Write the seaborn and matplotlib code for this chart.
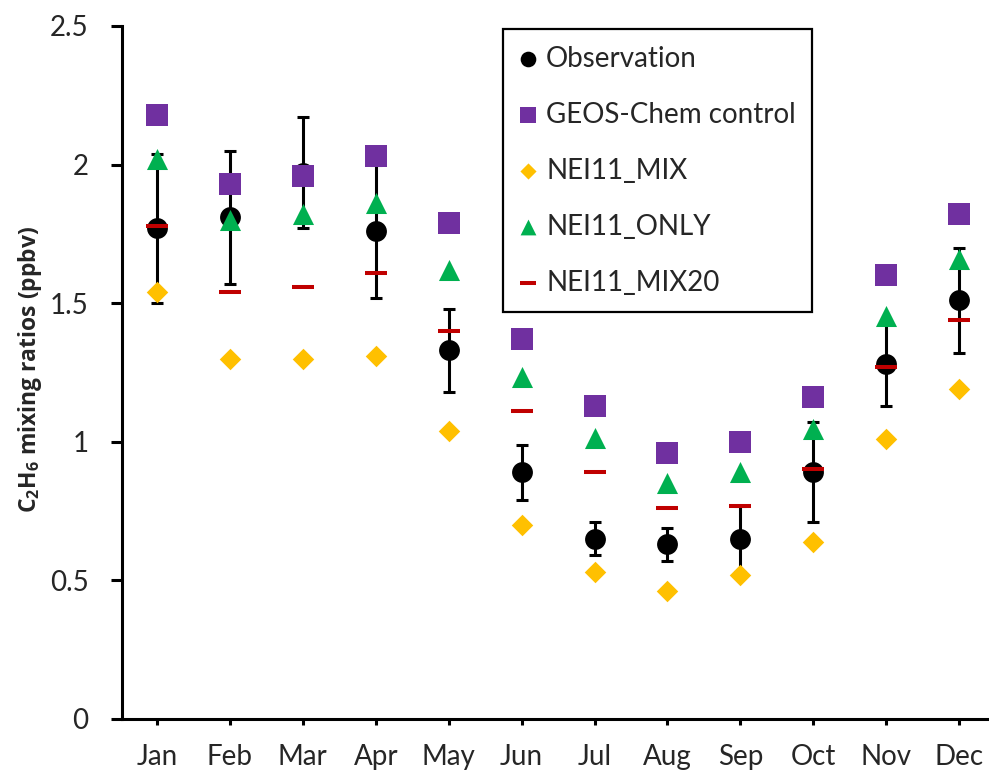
import numpy as np
import pandas as pd
import seaborn as sns
import matplotlib
matplotlib.use("Agg")
import matplotlib.pyplot as plt

months = ['Jan', 'Feb', 'Mar', 'Apr', 'May', 'Jun', 'Jul', 'Aug', 'Sep', 'Oct', 'Nov', 'Dec']

# observation with error bars (ppbv)
obs = [1.77, 1.81, 1.97, 1.76, 1.33, 0.89, 0.65, 0.63, 0.65, 0.89, 1.28, 1.51]
obs_err = [0.27, 0.24, 0.20, 0.24, 0.15, 0.10, 0.06, 0.06, 0.12, 0.18, 0.15, 0.19]

# model runs
geos_control = [2.18, 1.93, 1.96, 2.03, 1.79, 1.37, 1.13, 0.96, 1.00, 1.16, 1.60, 1.82]
nei11_mix = [1.54, 1.30, 1.30, 1.31, 1.04, 0.70, 0.53, 0.46, 0.52, 0.64, 1.01, 1.19]
nei11_only = [2.02, 1.80, 1.82, 1.86, 1.62, 1.235, 1.015, 0.85, 0.89, 1.045, 1.455, 1.66]
nei11_mix20 = [1.78, 1.54, 1.56, 1.61, 1.40, 1.11, 0.89, 0.76, 0.77, 0.90, 1.27, 1.44]

df = pd.DataFrame({'month': months, 'x': np.arange(len(months)),
                   'obs': obs, 'err': obs_err,
                   'control': geos_control, 'mix': nei11_mix,
                   'only': nei11_only, 'mix20': nei11_mix20})

sns.set_style('white')
plt.rcParams['font.family'] = ['Lato', 'DejaVu Sans']
plt.rcParams['mathtext.fontset'] = 'custom'
plt.rcParams['mathtext.rm'] = 'Open Sans:bold'
plt.rcParams['mathtext.bf'] = 'Open Sans:bold'

fig = plt.figure(figsize=(9.89, 7.76), dpi=100)
ax = fig.add_axes([0.1234, 0.0735, 0.8766, 0.893])

# observation first so the model markers sit on top
ax.errorbar(df['x'], df['obs'], yerr=df['err'], fmt='none', ecolor='black',
            elinewidth=2.2, capsize=4.5, capthick=2.2, zorder=2)
sns.scatterplot(data=df, x='x', y='obs', marker='o', s=225, color='black',
                edgecolor='black', linewidth=0, label='Observation', ax=ax, zorder=3)
sns.scatterplot(data=df, x='x', y='control', marker='s', s=250, color='#7030A0',
                edgecolor='#7030A0', linewidth=0, label='GEOS-Chem control', ax=ax, zorder=4)
sns.scatterplot(data=df, x='x', y='mix', marker='D', s=120, color='#FFC000',
                edgecolor='#FFC000', linewidth=0, label='NEI11_MIX', ax=ax, zorder=4)
sns.scatterplot(data=df, x='x', y='only', marker='^', s=230, color='#00B050',
                edgecolor='#00B050', linewidth=0, label='NEI11_ONLY', ax=ax, zorder=4)
sns.scatterplot(data=df, x='x', y='mix20', marker='_', s=250, color='#C00000',
                edgecolor='#C00000', linewidth=2.9, label='NEI11_MIX20', ax=ax, zorder=5)

ax.set_xlim(-0.48, 11.41)
ax.set_ylim(0, 2.5)
ax.set_xticks(df['x'])
ax.set_xticklabels(months)
ax.set_yticks([0, 0.5, 1, 1.5, 2, 2.5])
ax.set_yticklabels(['0', '0.5', '1', '1.5', '2', '2.5'])
ax.set_xlabel('')
ax.set_ylabel(r'C$_{\mathbf{2}}$H$_{\mathbf{6}}$ mixing ratios (ppbv)',
              fontsize=16.5, fontweight='bold', family=['Open Sans', 'DejaVu Sans'])
ax.yaxis.set_label_coords(-0.09, 0.505)

for side in ['top', 'right']:
    ax.spines[side].set_visible(False)
for side in ['left', 'bottom']:
    ax.spines[side].set_linewidth(2.2)
    ax.spines[side].set_color('black')
ax.tick_params(axis='y', direction='out', length=8, width=2.2, pad=16,
               labelsize=20, left=True, color='black')
ax.tick_params(axis='x', direction='out', length=4, width=2.2, pad=14,
               labelsize=20, bottom=True, color='black')

leg = ax.legend(loc='upper left', bbox_to_anchor=(503 / 989, 1 - 29 / 776),
                bbox_transform=fig.transFigure, fontsize=20, frameon=True,
                fancybox=False, edgecolor='black', framealpha=1,
                markerscale=0.75, handlelength=0.6, handletextpad=0.35,
                labelspacing=1.08, borderpad=0.6, borderaxespad=0)
leg.get_frame().set_linewidth(1.6)

fig.savefig('out.png', dpi=100)
